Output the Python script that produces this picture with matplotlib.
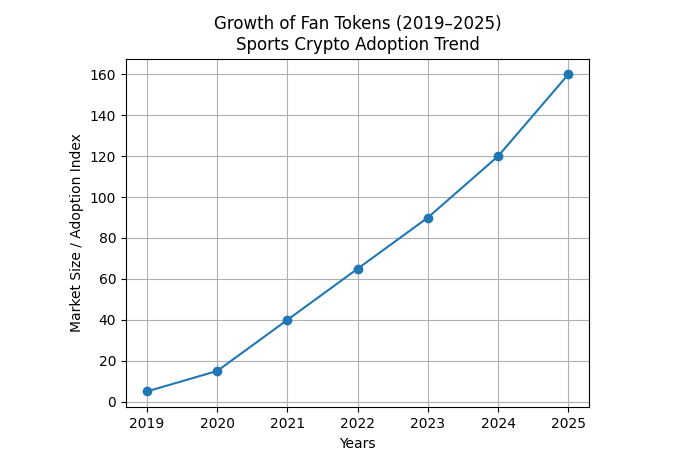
import matplotlib
matplotlib.use("Agg")
import matplotlib.pyplot as plt

years = [2019, 2020, 2021, 2022, 2023, 2024, 2025]
values = [5, 15, 40, 65, 90, 120, 160]

fig, ax = plt.subplots(figsize=(7, 4.5), dpi=100)
fig.subplots_adjust(left=0.18, right=0.842, top=0.87, bottom=0.095)
ax.plot(years, values, marker='o', color='#1f77b4')
ax.set_title("Growth of Fan Tokens (2019\u20132025)\nSports Crypto Adoption Trend")
ax.set_xlabel("Years")
ax.set_ylabel("Market Size / Adoption Index")
ax.set_xticks(years)
ax.grid(True)
fig.savefig("out.png")
